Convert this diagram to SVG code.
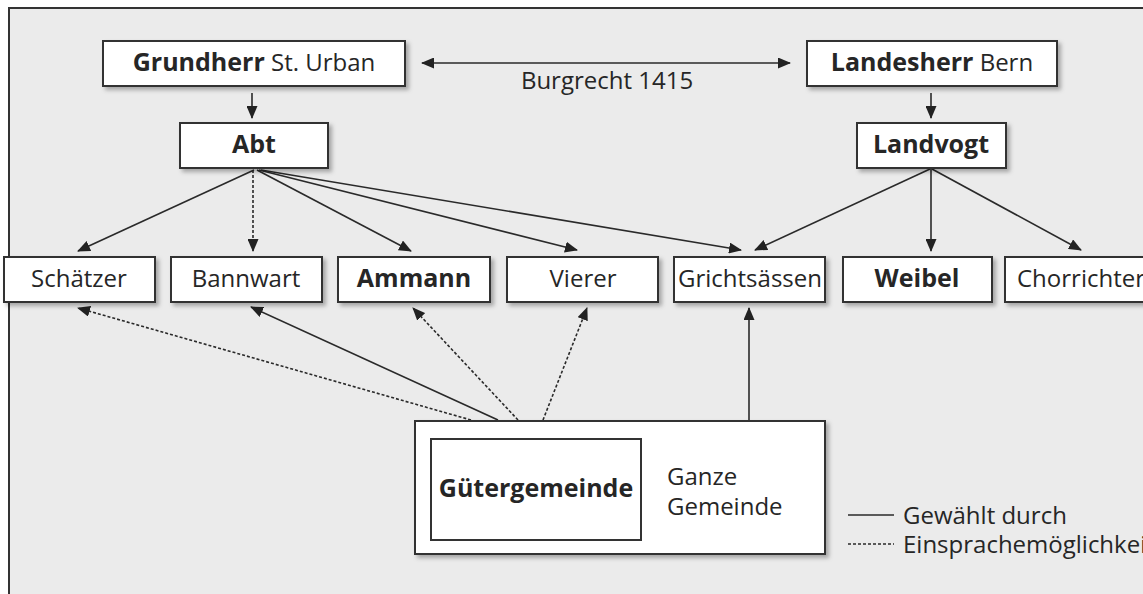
<svg xmlns="http://www.w3.org/2000/svg" width="1143" height="594" viewBox="0 0 1143 594">
<defs>
<style>
.box{fill:#fff;stroke:#333;stroke-width:2;filter:url(#sh)}
.t{font-family:"Open Sans","Noto Sans","Liberation Sans",sans-serif;font-size:24px;fill:#262626}
.b{font-weight:bold;font-size:25px}
.c{text-anchor:middle}
.ln{stroke:#2a2a2a;stroke-width:1.6;fill:none}
.dt{stroke:#2a2a2a;stroke-width:1.6;fill:none;stroke-dasharray:3 2}
.ar{marker-end:url(#ah)}
</style>
<filter id="sh" x="-5%" y="-10%" width="115%" height="130%">
<feDropShadow dx="3" dy="3" stdDeviation="2" flood-color="#000" flood-opacity="0.3"/>
</filter>
<marker id="ah" viewBox="0 0 13 11" refX="12" refY="5.5" markerWidth="13" markerHeight="11" markerUnits="userSpaceOnUse" orient="auto-start-reverse">
<path d="M0,0 L13,5.5 L0,11 z" fill="#222"/>
</marker>
</defs>
<rect x="0" y="0" width="1143" height="594" fill="#fff"/>
<rect x="9" y="8" width="1140" height="590" fill="#ebebeb"/>
<path d="M9,594 V8 H1143" stroke="#333" stroke-width="2" fill="none"/>

<g id="connectors">
<path class="ln ar" d="M422,63 H790" marker-start="url(#ah)"/>
<path class="ln ar" d="M252,93 V118"/>
<path class="ln ar" d="M931,93 V118"/>
<path class="ln ar" d="M254,170 L78,251"/>
<path class="dt ar" d="M253,170 V251"/>
<path class="ln ar" d="M257,170 L411,251"/>
<path class="ln ar" d="M259,170 L577,250"/>
<path class="ln ar" d="M261,170 L741,250"/>
<path class="ln ar" d="M930,169 L755,250"/>
<path class="ln ar" d="M931,169 V251"/>
<path class="ln ar" d="M932,169 L1081,250"/>
<path class="dt ar" d="M471,420 L78,308"/>
<path class="ln ar" d="M498,420 L251,307"/>
<path class="dt ar" d="M518,420 L413,308"/>
<path class="dt ar" d="M543,420 L587,308"/>
<path class="ln ar" d="M749,421 V308"/>
</g>
<text class="t c" x="607" y="89" font-size="20.5">Burgrecht 1415</text>

<g id="grundherr"><rect class="box" x="103" y="41" width="302" height="45"/>
<text class="t c" x="254" y="71"><tspan class="b">Grundherr</tspan> St. Urban</text></g>
<g id="landesherr"><rect class="box" x="807" y="41" width="250" height="45"/>
<text class="t c" x="932" y="71"><tspan class="b">Landesherr</tspan> Bern</text></g>
<g id="abt"><rect class="box" x="180" y="123" width="148" height="45"/>
<text class="t c b" x="254" y="153">Abt</text></g>
<g id="landvogt"><rect class="box" x="857" y="123" width="149" height="45"/>
<text class="t c b" x="931" y="153">Landvogt</text></g>

<g id="schaetzer"><rect class="box" x="4" y="257" width="151" height="45"/>
<text class="t c" x="79" y="287">Schätzer</text></g>
<g id="bannwart"><rect class="box" x="171" y="257" width="151" height="45"/>
<text class="t c" x="246" y="287">Bannwart</text></g>
<g id="ammann"><rect class="box" x="338" y="257" width="152" height="45"/>
<text class="t c b" x="414" y="287">Ammann</text></g>
<g id="vierer"><rect class="box" x="507" y="257" width="151" height="45"/>
<text class="t c" x="583" y="287">Vierer</text></g>
<g id="grichtsaessen"><rect class="box" x="674" y="257" width="151" height="45"/>
<text class="t c" x="750" y="287">Grichtsässen</text></g>
<g id="weibel"><rect class="box" x="843" y="257" width="149" height="45"/>
<text class="t c b" x="917" y="287">Weibel</text></g>
<g id="chorrichter"><rect class="box" x="1005" y="257" width="160" height="45"/>
<text class="t" x="1017" y="287">Chorrichter</text></g>

<g id="ganze-gemeinde"><rect class="box" x="415" y="421" width="410" height="133"/>
<text class="t" x="667" y="485" font-size="25.5">Ganze</text>
<text class="t" x="667" y="515" font-size="25.5">Gemeinde</text></g>
<g id="guetergemeinde"><rect x="431" y="439" width="210" height="101" fill="#fff" stroke="#333" stroke-width="2"/>
<text class="t c b" x="536" y="497">Gütergemeinde</text></g>

<g id="legend">
<path class="ln" d="M848,515 H894"/>
<path class="dt" d="M848,544 H894"/>
<text class="t" x="903" y="524">Gewählt durch</text>
<text class="t" x="903" y="553">Einsprachemöglichkeit</text>
</g>
</svg>
